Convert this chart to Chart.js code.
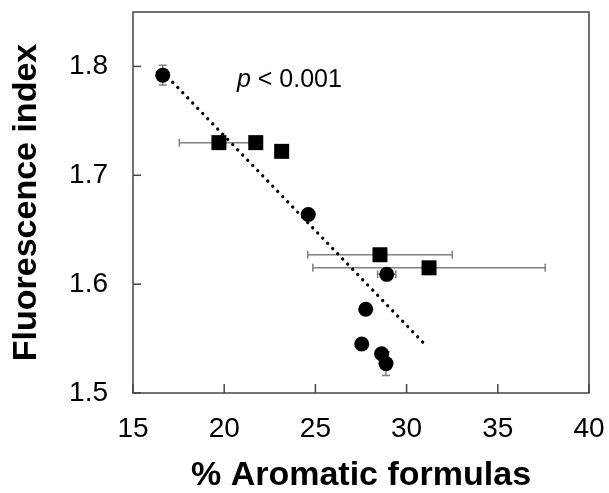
<!DOCTYPE html>
<html><head><meta charset="utf-8">
<script src="https://cdn.jsdelivr.net/npm/chart.js@4.4.0/dist/chart.umd.min.js"></script>
<style>html,body{margin:0;padding:0;background:#fff}#wrap{width:609px;height:493px}</style>
</head><body><div id="wrap"><canvas id="c" width="609" height="493"></canvas></div>
<script>
// ---- data ----
const xTicks = [15, 20, 25, 30, 35, 40];
const yTicks = [1.5, 1.6, 1.7, 1.8];
const circleX = [16.63, 24.61, 28.91, 27.76, 27.54, 28.63, 28.87];
const circleY = [1.792, 1.664, 1.609, 1.577, 1.545, 1.536, 1.527];
const circleXErr = [0, 0, 0.5, 0, 0, 0, 0];
const circleYErr = [0.009, 0, 0, 0, 0, 0, 0.011];
const squareX = [19.71, 21.73, 23.15, 28.54, 31.23];
const squareY = [1.730, 1.730, 1.722, 1.627, 1.615];
const squareXErr = [2.17, 0, 0, 3.96, 6.37];
const squareYErr = [0, 0, 0, 0, 0];
const trendX = [16.63, 31.1];
const trendY = [1.795, 1.543];
const pLabelAt = [20.7, 1.781];
const xTitle = '% Aromatic formulas';
const yTitle = 'Fluorescence index';

const FONT = "'Liberation Sans', Arial, sans-serif";
const pts = (xs, ys) => xs.map((x, i) => ({x, y: ys[i]}));
const noPad = s => { s.paddingLeft = 0; s.paddingRight = 0; s.paddingTop = 0; s.paddingBottom = 0; };

const errPlugin = {
  id: 'errbars',
  beforeDatasetsDraw(chart) {
    const {ctx, scales: {x, y}, chartArea: a} = chart;
    ctx.save();
    ctx.strokeStyle = '#444';
    ctx.lineWidth = 1.5;
    ctx.strokeRect(a.left, a.top, a.right - a.left, a.bottom - a.top);
    xTicks.forEach(v => {
      const px = x.getPixelForValue(v);
      ctx.beginPath(); ctx.moveTo(px, a.bottom); ctx.lineTo(px, a.bottom - 9); ctx.stroke();
    });
    yTicks.forEach(v => {
      const py = y.getPixelForValue(v);
      ctx.beginPath(); ctx.moveTo(a.left, py); ctx.lineTo(a.left + 8, py); ctx.stroke();
    });
    ctx.strokeStyle = '#808080';
    ctx.lineWidth = 1.5;
    const draw = (xs, ys, xe, ye) => {
      xs.forEach((xv, i) => {
        const px = x.getPixelForValue(xv), py = y.getPixelForValue(ys[i]);
        if (xe[i] > 0) {
          const l = x.getPixelForValue(xv - xe[i]), r = x.getPixelForValue(xv + xe[i]);
          ctx.beginPath();
          ctx.moveTo(l, py); ctx.lineTo(r, py);
          ctx.moveTo(l, py - 4); ctx.lineTo(l, py + 4);
          ctx.moveTo(r, py - 4); ctx.lineTo(r, py + 4);
          ctx.stroke();
        }
        if (ye[i] > 0) {
          const t = y.getPixelForValue(ys[i] + ye[i]), b = y.getPixelForValue(ys[i] - ye[i]);
          ctx.beginPath();
          ctx.moveTo(px, t); ctx.lineTo(px, b);
          ctx.moveTo(px - 4, t); ctx.lineTo(px + 4, t);
          ctx.moveTo(px - 4, b); ctx.lineTo(px + 4, b);
          ctx.stroke();
        }
      });
    };
    draw(circleX, circleY, circleXErr, circleYErr);
    draw(squareX, squareY, squareXErr, squareYErr);
    ctx.restore();
  },
  afterDatasetsDraw(chart) {
    const {ctx, scales: {x, y}} = chart;
    ctx.save();
    const px = x.getPixelForValue(pLabelAt[0]), py = y.getPixelForValue(pLabelAt[1]);
    ctx.fillStyle = '#000';
    ctx.textBaseline = 'alphabetic';
    ctx.font = 'italic 25px ' + FONT;
    ctx.fillText('p', px, py);
    const w = ctx.measureText('p').width;
    ctx.font = '25px ' + FONT;
    ctx.fillText(' < 0.001', px + w, py);
    ctx.restore();
  }
};

new Chart(document.getElementById('c'), {
  type: 'scatter',
  data: {
    datasets: [
      {
        data: pts(trendX, trendY), showLine: true, pointRadius: 0,
        borderColor: '#000', borderWidth: 3.3, borderDash: [0.01, 7.2],
        borderCapStyle: 'round', order: 2
      },
      {
        data: pts(squareX, squareY), pointStyle: 'rect', pointRadius: 10.6,
        backgroundColor: '#000', borderWidth: 0, order: 1
      },
      {
        data: pts(circleX, circleY), pointStyle: 'circle', pointRadius: 7.5,
        backgroundColor: '#000', borderWidth: 0, order: 0
      }
    ]
  },
  options: {
    responsive: false,
    animation: false,
    events: [],
    layout: {padding: {left: 0, right: 20, top: 12, bottom: 0}},
    plugins: {legend: {display: false}, tooltip: {enabled: false}},
    scales: {
      x: {
        type: 'linear', min: 15, max: 40,
        afterFit: s => { s.height = 100; noPad(s); },
        afterBuildTicks: s => { s.ticks = xTicks.map(v => ({value: v})); },
        grid: {display: false, drawTicks: false},
        border: {display: false},
        ticks: {color: '#000', font: {family: FONT, size: 28}, padding: 19, maxRotation: 0, callback: v => String(v)},
        title: {display: true, text: xTitle, color: '#000', font: {family: FONT, size: 34, weight: 'bold', lineHeight: 1}, padding: {top: 0, bottom: 0}}
      },
      y: {
        type: 'linear', min: 1.5, max: 1.85,
        afterFit: s => { s.width = 133; noPad(s); },
        afterBuildTicks: s => { s.ticks = yTicks.map(v => ({value: v})); },
        grid: {display: false, drawTicks: false},
        border: {display: false},
        ticks: {color: '#000', font: {family: FONT, size: 28}, padding: 25, callback: v => v.toFixed(1)},
        title: {display: true, text: yTitle, color: '#000', font: {family: FONT, size: 34, weight: 'bold', lineHeight: 1}, padding: {top: 10, bottom: 0}}
      }
    }
  },
  plugins: [errPlugin]
});
</script>
</body></html>
